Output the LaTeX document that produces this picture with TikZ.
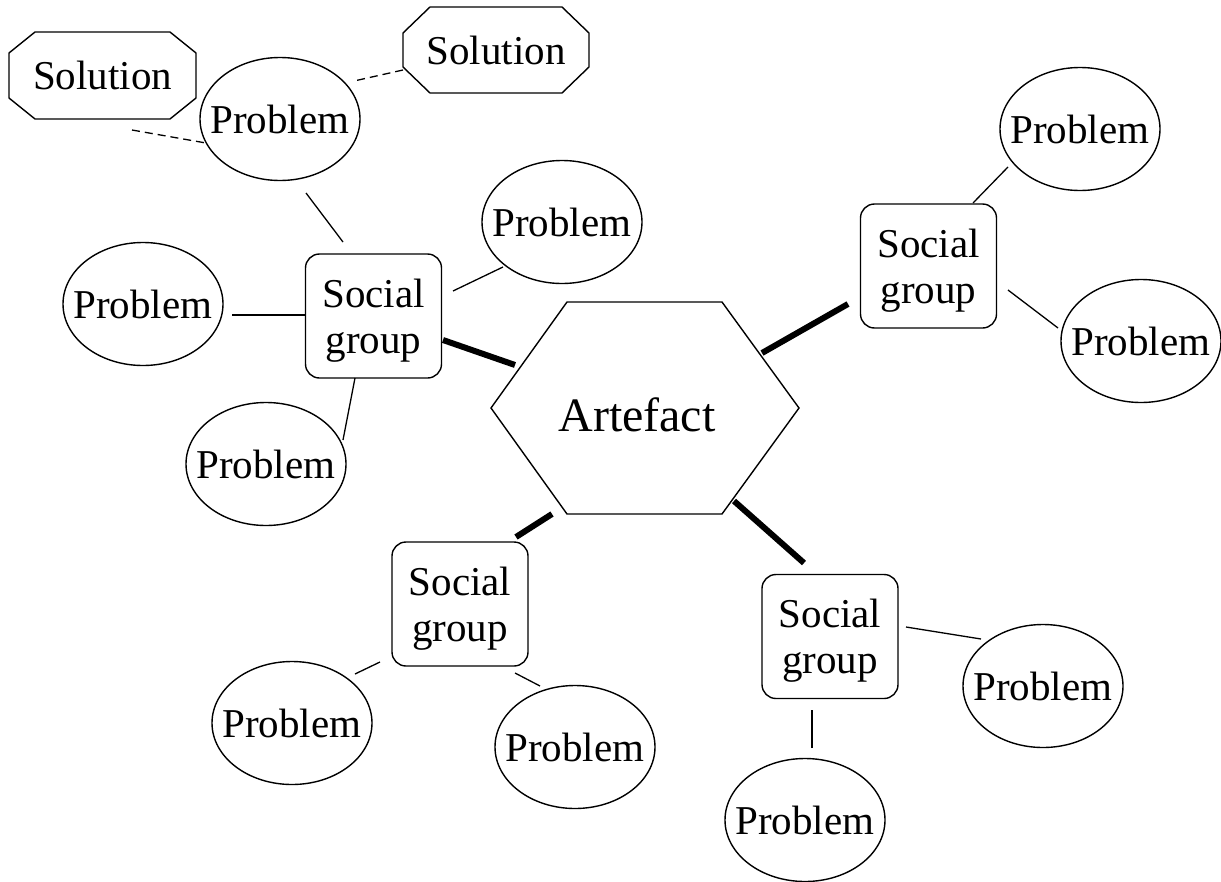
\documentclass[tikz,border=0pt]{standalone}
\usepackage{fontspec}
\setmainfont{Liberation Serif}
\usetikzlibrary{shapes.geometric,calc}
\begin{document}
\begin{tikzpicture}[x=1pt,y=-1pt,
  prob/.style={inner sep=0pt, font=\fontsize{41}{46}\selectfont},
  sgbox/.style={draw, rectangle, rounded corners=14pt, line width=1.4pt, minimum width=136pt, minimum height=124pt, inner sep=0pt, align=center, font=\fontsize{41}{46}\selectfont, text depth=0pt},
  soltext/.style={inner sep=0pt, font=\fontsize{41}{46}\selectfont},
  outline/.style={draw, line width=1.4pt, line join=miter},
  conn/.style={line width=1.3pt},
  heavy/.style={line width=6pt},
  dashlink/.style={line width=1.3pt, dash pattern=on 8pt off 5pt}
]
\useasboundingbox (0,0) rectangle (1221,881);

% Artefact hexagon
\node[inner sep=0pt, font=\fontsize{48}{56}\selectfont, text height=46pt, text depth=0pt] (art) at (645,408) {Artefact\hspace*{16pt}};
\draw[outline] ($(art)+(-154,0)$) -- ($(art)+(-78,-106)$) -- ($(art)+(77,-106)$) -- ($(art)+(154,0)$) -- ($(art)+(77,106)$) -- ($(art)+(-78,106)$) -- cycle;

% Social groups
\node[sgbox] (sgL)  at (373.5,316) {Social\\group};
\node[sgbox] (sgR)  at (928.5,266) {Social\\group};
\node[sgbox] (sgBL) at (460,604)   {Social\\group};
\node[sgbox] (sgBR) at (830,636.5) {Social\\group};

% Problems
\node[prob] (pTL) at (280,119)  {Problem};
\node[prob] (pUC) at (562,222)  {Problem};
\node[prob] (pL)  at (143,304)  {Problem};
\node[prob] (pLB) at (266,464)  {Problem};
\node[prob] (pTR) at (1080,129) {Problem};
\node[prob] (pR)  at (1141,341) {Problem};
\node[prob] (pBL) at (292,723)  {Problem};
\node[prob] (pBC) at (575,747)  {Problem};
\node[prob] (pBR) at (1043,686) {Problem};
\node[prob] (pB)  at (805,820)  {Problem};
\foreach \n in {pTL,pUC,pL,pLB,pTR,pR,pBL,pBC,pBR,pB}
  \draw[outline] (\n) ellipse [x radius=80, y radius=61.5];

% Solutions
\node[soltext] (solL) at (102.5,75.5) {Solution};
\draw[outline] ($(solL)+(-67.5,-43.5)$) -- ($(solL)+(67.5,-43.5)$) -- ($(solL)+(93.5,-22.5)$) -- ($(solL)+(93.5,22.5)$) -- ($(solL)+(67.5,43.5)$) -- ($(solL)+(-67.5,43.5)$) -- ($(solL)+(-93.5,22.5)$) -- ($(solL)+(-93.5,-22.5)$) -- cycle;
\node[soltext] (solR) at (496,50) {Solution};
\draw[outline] ($(solR)+(-66,-43)$) -- ($(solR)+(66,-43)$) -- ($(solR)+(93,-17)$) -- ($(solR)+(93,17)$) -- ($(solR)+(66,43)$) -- ($(solR)+(-66,43)$) -- ($(solR)+(-93,17)$) -- ($(solR)+(-93,-17)$) -- cycle;

% Heavy connectors social group -- artefact
\draw[heavy] ($(sgL)+(69.5,24)$) -- ($(art)+(-130,-43)$);
\draw[heavy] ($(sgR)+(-80.5,38)$) -- ($(art)+(117,-55)$);
\draw[heavy] ($(sgBL)+(56,-67)$) -- ($(art)+(-93,106)$);
\draw[heavy] ($(sgBR)+(-26,-73.5)$) -- ($(art)+(89,93)$);

% Thin connectors problem -- social group
\draw[conn] ($(pTL)+(26,74)$) -- ($(sgL)+(-30.5,-74)$);
\draw[conn] ($(pL)+(89,11)$) -- ($(sgL)+(-67.5,-1)$);
\draw[conn] ($(pUC)+(-59,45)$) -- ($(sgL)+(79.5,-25)$);
\draw[conn] ($(pLB)+(77,-24)$) -- ($(sgL)+(-18.5,62)$);
\draw[conn] ($(pTR)+(-72,38)$) -- ($(sgR)+(44.5,-63)$);
\draw[conn] ($(pR)+(-83,-13)$) -- ($(sgR)+(79.5,24)$);
\draw[conn] ($(pBL)+(63,-49)$) -- ($(sgBL)+(-80,58)$);
\draw[conn] ($(pBC)+(-35,-61)$) -- ($(sgBL)+(55,69)$);
\draw[conn] ($(pBR)+(-62,-47)$) -- ($(sgBR)+(76,-9.5)$);
\draw[conn] ($(pB)+(7,-72)$) -- ($(sgBR)+(-18,73.5)$);

% Dashed connectors solution -- problem
\draw[dashlink] ($(solL)+(29.5,54.5)$) -- ($(pTL)+(-74,24)$);
\draw[dashlink] ($(solR)+(-93,20)$) -- ($(pTL)+(74,-38)$);
\end{tikzpicture}
\end{document}
